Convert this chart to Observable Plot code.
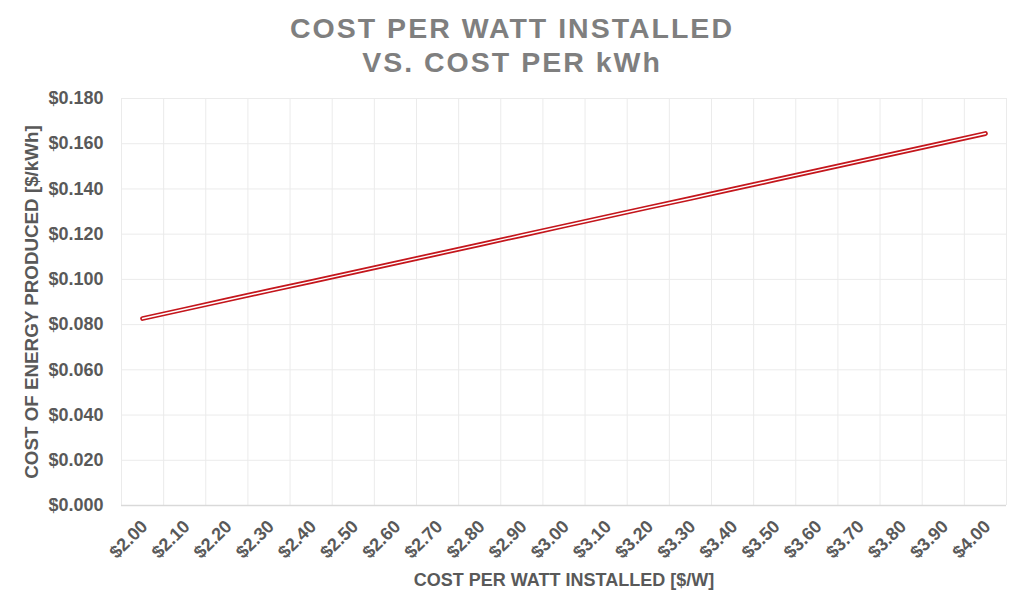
<!DOCTYPE html>
<html>
<head>
<meta charset="utf-8">
<script src="https://cdn.jsdelivr.net/npm/d3@7"></script>
<script src="https://cdn.jsdelivr.net/npm/@observablehq/plot@0.6"></script>
<style>
  html, body { margin: 0; padding: 0; background: #fff; }
  body { width: 1024px; height: 612px; overflow: hidden; font-family: "Liberation Sans", Arial, sans-serif; }
  #title { height: 85px; box-sizing: border-box; padding-top: 11px; text-align: center; color: #7f7f7f;
    font-weight: bold; font-size: 28.5px; line-height: 34px; letter-spacing: 2px; }
  #chart svg { display: block; }
</style>
</head>
<body>
<div id="title">COST PER WATT INSTALLED<br>VS. COST PER kWh</div>
<div id="chart"></div>
<script>
const costPerWatt = [2.00, 2.10, 2.20, 2.30, 2.40, 2.50, 2.60, 2.70, 2.80, 2.90, 3.00,
                     3.10, 3.20, 3.30, 3.40, 3.50, 3.60, 3.70, 3.80, 3.90, 4.00];
const costPerKWh = [0.0827, 0.0868, 0.0909, 0.0950, 0.0990, 0.1031, 0.1072, 0.1113, 0.1154, 0.1195, 0.1236,
                    0.1277, 0.1318, 0.1358, 0.1399, 0.1440, 0.1481, 0.1522, 0.1563, 0.1604, 0.1645];
const yTicks = [0, 0.02, 0.04, 0.06, 0.08, 0.10, 0.12, 0.14, 0.16, 0.18];
const xTitle = "COST PER WATT INSTALLED [$/W]";
const yTitle = "COST OF ENERGY PRODUCED [$/kWh]";

const data = costPerWatt.map((x, i) => ({x, y: costPerKWh[i]}));
const half = 0.05;
const boundaries = costPerWatt.map(c => c - half).concat([costPerWatt[costPerWatt.length - 1] + half]);
const txt = {fill: "#595959", fontSize: 18, fontWeight: "bold"};

const plot = Plot.plot({
  width: 1024,
  height: 527,
  marginLeft: 121,
  marginRight: 18,
  marginTop: 13,
  marginBottom: 107,
  style: {fontFamily: "'Liberation Sans', Arial, sans-serif", background: "#fff", overflow: "visible"},
  x: {type: "linear", domain: [costPerWatt[0] - half, costPerWatt[costPerWatt.length - 1] + half], axis: null},
  y: {domain: [0, 0.18], axis: null},
  marks: [
    Plot.ruleY(yTicks.slice(1), {stroke: "#ebebeb", strokeWidth: 1}),
    Plot.ruleX(boundaries, {stroke: "#ebebeb", strokeWidth: 1}),
    Plot.ruleY([0], {stroke: "#d9d9d9", strokeWidth: 1.5}),
    Plot.line(data, {x: "x", y: "y", stroke: "#c4161c", strokeWidth: 4.8}),
    Plot.line(data, {x: "x", y: "y", stroke: "#ffffff", strokeWidth: 1.4}),
    Plot.text(yTicks, {y: d => d, frameAnchor: "left", dx: -18, textAnchor: "end", lineAnchor: "middle",
      text: d => "$" + d.toFixed(3), ...txt}),
    Plot.text(costPerWatt, {x: d => d, frameAnchor: "bottom", dx: 2, dy: 18, rotate: -45, textAnchor: "end", lineAnchor: "middle",
      text: d => "$" + d.toFixed(2), ...txt}),
    Plot.text([xTitle], {frameAnchor: "bottom", dy: 75, textAnchor: "middle", lineAnchor: "middle", text: d => d, ...txt}),
    Plot.text([yTitle], {frameAnchor: "left", dx: -90, rotate: -90, textAnchor: "middle", lineAnchor: "middle", text: d => d, ...txt, fontSize: 18.8})
  ]
});
document.getElementById("chart").appendChild(plot);
</script>
</body>
</html>
